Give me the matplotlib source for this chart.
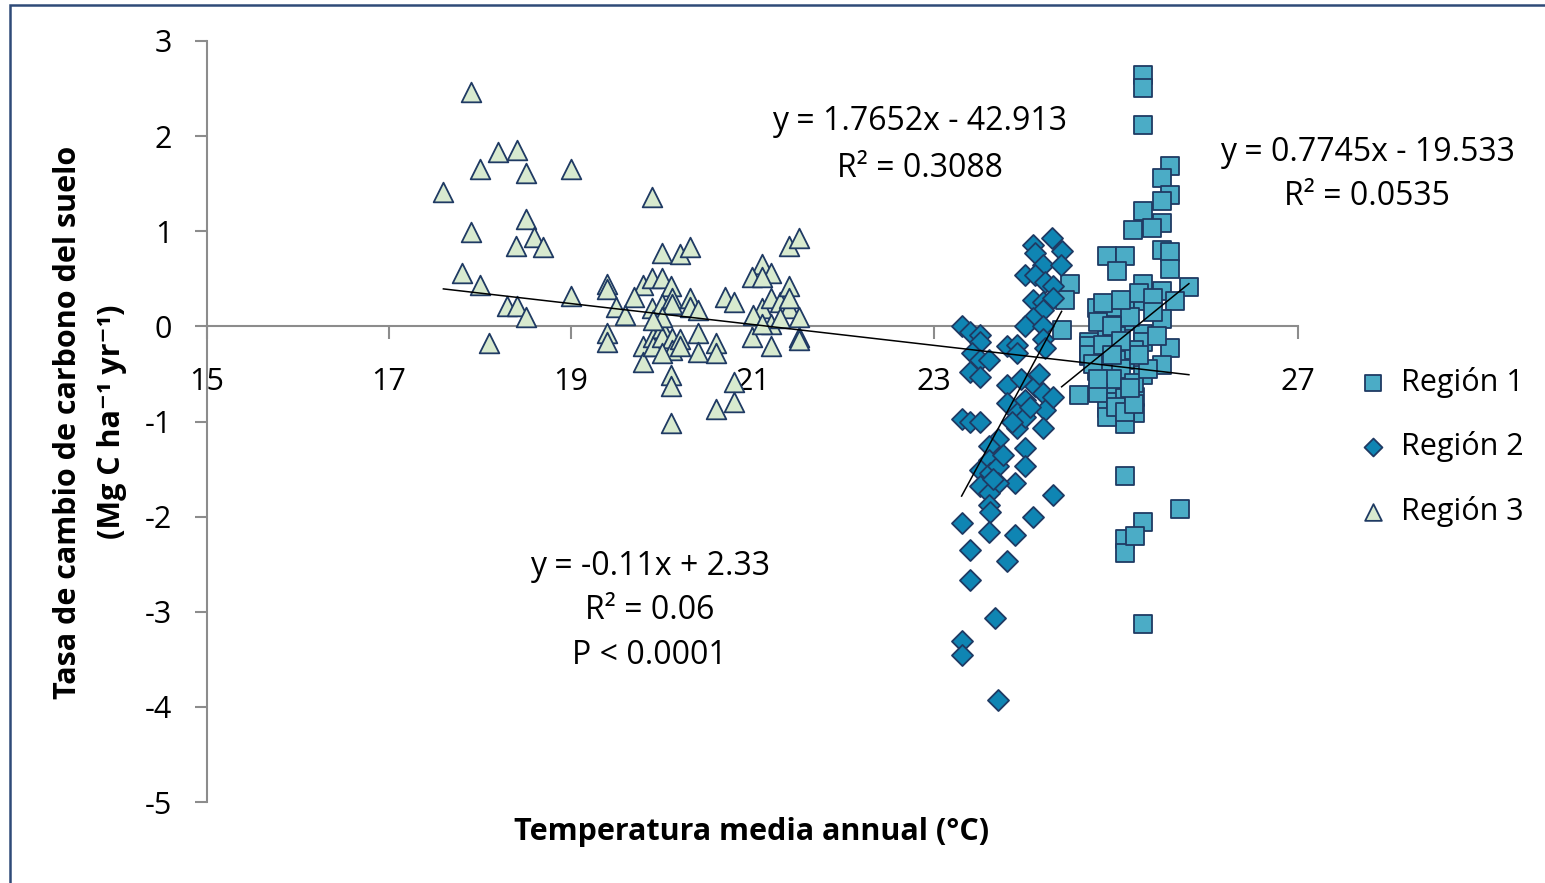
import matplotlib
matplotlib.use('Agg')
import matplotlib.pyplot as plt
import numpy as np
from matplotlib.patches import Rectangle

plt.rcParams['font.family'] = ['Open Sans', 'DejaVu Sans']
plt.rcParams['axes.unicode_minus'] = False

# Región 1 (squares)
x_r1 = [25.30, 25.30, 25.30, 25.59, 25.50, 25.59, 25.50, 25.30, 25.50, 25.19,
        25.39, 25.50, 25.59, 24.90, 25.10, 25.01, 25.59, 25.30, 25.80, 25.50,
        25.65, 24.79, 25.10, 25.30, 25.50, 24.90, 25.10, 25.30, 24.70, 24.90,
        25.00, 25.59, 24.70, 24.79, 24.90, 25.10, 25.30, 25.30, 25.50, 24.90,
        25.00, 25.21, 24.90, 25.00, 25.21, 25.10, 24.59, 25.10, 25.30, 25.70,
        25.10, 25.10, 25.21, 25.30, 24.49, 24.44, 24.40, 24.70, 24.70, 24.80,
        24.85, 25.00, 25.05, 25.15, 25.20, 25.25, 24.95, 25.40, 24.80, 25.00,
        25.20, 25.35, 24.85, 25.10, 25.40, 24.95, 25.25, 25.45, 24.75, 25.05,
        24.90, 25.00, 25.10, 25.20, 24.80, 25.15, 25.05, 24.95]
y_r1 = [2.64, 2.51, 2.12, 1.69, 1.56, 1.38, 1.32, 1.21, 1.09, 1.01,
        1.03, 0.80, 0.78, 0.74, 0.74, 0.58, 0.60, 0.45, 0.41, 0.37,
        0.27, 0.19, 0.23, 0.27, 0.08, 0.12, 0.06, -0.08, -0.16, -0.08,
        -0.10, -0.23, -0.31, -0.47, -0.39, -0.35, -0.16, -0.51, -0.41, -0.60,
        -0.72, -0.74, -0.86, -0.93, -0.91, -1.03, -0.72, -1.57, -2.06, -1.92,
        -2.24, -2.38, -2.20, -3.13, 0.45, 0.28, -0.04, -0.21, -0.30, 0.05,
        -0.20, 0.20, -0.45, 0.10, -0.25, 0.35, -0.55, 0.30, -0.70, -0.80,
        -0.60, -0.45, 0.25, -0.75, 0.15, 0.00, -0.30, -0.10, -0.40, -0.15,
        -0.95, -0.85, -0.90, -0.82, -0.55, -0.65, 0.28, -0.30]

# Región 2 (diamonds)
x_r2 = [23.30, 23.39, 23.50, 23.50, 23.41, 23.50, 23.60, 23.39, 23.50, 23.30,
        23.39, 23.50, 23.80, 23.91, 23.91, 23.80, 23.80, 23.91, 23.91, 24.00,
        24.00, 24.00, 24.00, 23.89, 24.11, 24.20, 24.22, 24.20, 24.31, 23.70,
        23.60, 23.60, 23.50, 23.61, 23.70, 23.70, 23.50, 23.60, 23.60, 23.61,
        23.30, 23.60, 23.89, 24.09, 24.31, 23.39, 23.80, 23.39, 23.67, 23.30,
        23.30, 23.70, 24.29, 24.09, 24.40, 24.11, 24.20, 24.39, 24.00, 24.11,
        24.22, 24.31, 24.09, 24.20, 24.31, 24.20, 24.09, 24.00, 24.20, 24.20,
        24.22, 23.95, 24.05, 23.85, 24.15, 23.75, 23.65]
y_r2 = [0.00, -0.06, -0.09, -0.16, -0.28, -0.35, -0.35, -0.48, -0.53, -0.97,
        -1.00, -1.00, -0.21, -0.20, -0.28, -0.62, -0.81, -0.91, -1.07, -0.77,
        -0.95, -1.28, -1.47, -1.65, -0.63, -0.70, -0.88, -1.07, -0.74, -1.18,
        -1.26, -1.40, -1.51, -1.54, -1.47, -1.65, -1.68, -1.75, -1.88, -1.95,
        -2.07, -2.16, -2.19, -2.00, -1.77, -2.35, -2.47, -2.67, -3.07, -3.31,
        -3.45, -3.93, 0.93, 0.86, 0.79, 0.77, 0.65, 0.65, 0.54, 0.54,
        0.47, 0.42, 0.28, 0.26, 0.30, 0.17, 0.09, 0.00, 0.00, -0.13,
        -0.23, -0.55, -0.85, -1.00, -0.50, -1.35, -1.60]

# Región 3 (triangles)
x_r3 = [17.90, 17.60, 18.00, 18.20, 18.41, 18.51, 19.00, 19.90, 18.51, 17.90,
        18.60, 18.40, 18.70, 17.80, 18.00, 19.00, 18.30, 18.41, 18.51, 18.10,
        20.00, 20.20, 20.31, 21.40, 21.51, 21.10, 21.00, 21.20, 19.40, 19.40,
        19.80, 19.90, 20.00, 20.10, 19.70, 19.50, 19.60, 19.90, 20.00, 20.11,
        20.11, 20.31, 20.31, 20.40, 20.70, 20.80, 21.10, 21.20, 21.30, 21.40,
        21.40, 21.51, 21.10, 21.20, 19.40, 19.40, 19.80, 19.80, 19.91, 19.91,
        20.00, 20.00, 20.11, 20.11, 20.20, 20.40, 20.40, 20.60, 20.60, 21.00,
        21.20, 21.51, 21.51, 20.10, 20.10, 20.80, 20.80, 20.60, 20.10, 21.01,
        21.10, 21.30, 21.40, 20.00, 19.91, 20.00, 20.20]
y_r3 = [2.46, 1.41, 1.65, 1.83, 1.85, 1.61, 1.65, 1.36, 1.13, 0.99,
        0.94, 0.84, 0.83, 0.56, 0.44, 0.32, 0.21, 0.21, 0.10, -0.18,
        0.77, 0.76, 0.83, 0.85, 0.93, 0.66, 0.52, 0.56, 0.45, 0.39,
        0.44, 0.51, 0.51, 0.42, 0.31, 0.20, 0.12, 0.19, 0.24, 0.30,
        0.23, 0.30, 0.20, 0.17, 0.31, 0.26, 0.19, 0.30, 0.26, 0.42,
        0.19, 0.10, 0.52, 0.03, -0.07, -0.16, -0.21, -0.37, -0.11, -0.21,
        -0.02, -0.11, -0.12, -0.25, -0.13, -0.07, -0.27, -0.18, -0.28, -0.11,
        -0.21, -0.11, -0.14, -0.51, -0.63, -0.58, -0.79, -0.87, -1.02, 0.12,
        0.03, 0.09, 0.30, 0.10, 0.07, -0.28, -0.21]

# trend lines: (slope, intercept, x range)
fit_r1 = (0.7745, -19.533, 24.4, 25.8)
fit_r2 = (1.7652, -42.913, 23.3, 24.4)
fit_all = (-0.11, 2.33, 17.6, 25.8)

edge = '#1F3A63'
fs = 22
fig = plt.figure(figsize=(15.45, 8.83), dpi=100)
ax = fig.add_axes([207/1545, 1 - 802/883, (1298 - 207)/1545, (802 - 41)/883])

ax.scatter(x_r1, y_r1, marker='s', s=185, c='#4BACC6', edgecolors=edge, linewidths=1.3, label='Región 1', zorder=3)
ax.scatter(x_r2, y_r2, marker='D', s=115, c='#0F85B3', edgecolors=edge, linewidths=1.3, label='Región 2', zorder=3)
ax.scatter(x_r3, y_r3, marker='^', s=200, c='#D8EACF', edgecolors=edge, linewidths=1.3, label='Región 3', zorder=3)

for m, b, x0, x1 in [fit_r1, fit_r2, fit_all]:
    xs = np.array([x0, x1])
    ax.plot(xs, m * xs + b, color='black', lw=1.1, zorder=4)

ax.set_xlim(15, 27)
ax.set_ylim(-5, 3)
ax.set_xticks(range(15, 28, 2))
ax.set_yticks(range(-5, 4))
ax.spines['top'].set_visible(False)
ax.spines['right'].set_visible(False)
ax.spines['bottom'].set_position(('data', 0))
for s in ['left', 'bottom']:
    ax.spines[s].set_color('#8C8C8C')
    ax.spines[s].set_linewidth(1.5)
ax.tick_params(axis='both', colors='#8C8C8C', width=1.5, length=9, labelsize=fs, labelcolor='black')
ax.tick_params(axis='x', pad=20)
ax.tick_params(axis='y', pad=16)

# equation labels, one line each
for xc, ys, lines in [(19.87, [-2.52, -2.99, -3.46], ['y = -0.11x + 2.33', 'R² = 0.06', 'P < 0.0001']),
                      (22.84, [2.15, 1.66], ['y = 1.7652x - 42.913', 'R² = 0.3088']),
                      (27.76, [1.83, 1.37], ['y = 0.7745x - 19.533', 'R² = 0.0535'])]:
    for yc, t in zip(ys, lines):
        ax.text(xc, yc, t, fontsize=23, ha='center', va='center', clip_on=False)

fig.text(752/1545, 1 - 832/883, 'Temperatura media annual (°C)', fontsize=fs, fontweight='bold', ha='center', va='center')
fig.text(68/1545, 1 - 422/883, 'Tasa de cambio de carbono del suelo', fontsize=fs,
         fontweight='bold', ha='center', va='center', rotation=90)
fig.text(112/1545, 1 - 422/883, '(Mg C ha⁻¹ yr⁻¹)', fontsize=fs,
         fontweight='bold', ha='center', va='center', rotation=90)

ax.legend(loc='center left', bbox_to_anchor=(1358/1545, 1 - 447/883), bbox_transform=fig.transFigure,
          frameon=False, fontsize=fs, labelspacing=1.1, handlelength=1.0, handletextpad=0.4,
          borderaxespad=0, borderpad=0, markerscale=0.85)

fig.add_artist(Rectangle((10/1545, -0.02), 1.02, 1 - 5/883 + 0.02, transform=fig.transFigure,
                         fill=False, edgecolor='#2F4A78', lw=1.8))

fig.savefig('out.png', dpi=100)
